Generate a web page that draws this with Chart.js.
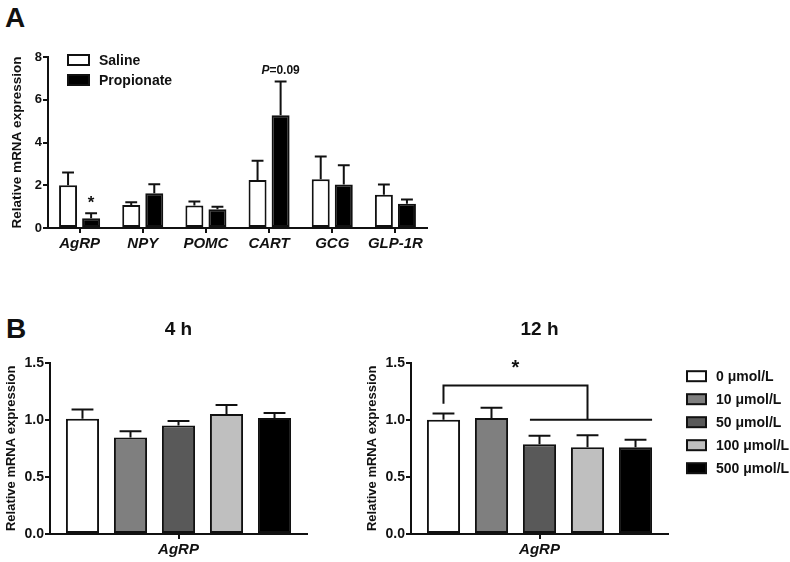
<!DOCTYPE html>
<html>
<head>
<meta charset="utf-8">
<script src="https://cdn.jsdelivr.net/npm/chart.js@4.4.0/dist/chart.umd.min.js"></script>
<style>
  body { margin: 0; background: #fff; width: 790px; height: 562px; position: relative; overflow: hidden; font-family: "Liberation Sans", Arial, sans-serif; }
  .wrap { position: absolute; }
  .panel { position: absolute; font-weight: bold; font-size: 28px; color: #111; line-height: normal; }
</style>
</head>
<body>
<div class="panel" style="left:5px;top:2px">A</div>
<div class="panel" style="left:6px;top:313px">B</div>
<div class="wrap" style="left:0;top:0;width:440px;height:262px"><canvas id="chartA"></canvas></div>
<div class="wrap" style="left:0;top:290px;width:325px;height:272px"><canvas id="chart4h"></canvas></div>
<div class="wrap" style="left:330px;top:290px;width:460px;height:272px"><canvas id="chart12h"></canvas></div>
<script>
// panel A data
const genes = ["AgRP", "NPY", "POMC", "CART", "GCG", "GLP-1R"];
const salineMean = [2.0, 1.08, 1.05, 2.25, 2.28, 1.56];
const salineSem = [0.6, 0.13, 0.19, 0.9, 1.07, 0.47];
const propMean = [0.46, 1.63, 0.88, 5.28, 2.03, 1.13];
const propSem = [0.23, 0.42, 0.12, 1.57, 0.9, 0.2];

// panel B data
const doseLabels = ["0 μmol/L", "10 μmol/L", "50 μmol/L", "100 μmol/L", "500 μmol/L"];
const mean4h = [1.01, 0.845, 0.95, 1.05, 1.015];
const sem4h = [0.08, 0.055, 0.04, 0.08, 0.045];
const mean12h = [1.0, 1.015, 0.785, 0.76, 0.76];
const sem12h = [0.055, 0.09, 0.075, 0.105, 0.065];

const doseColors = ["#ffffff", "#7f7f7f", "#595959", "#bfbfbf", "#000000"];
const ink = "#111";
const FONT = "Liberation Sans";
Chart.defaults.font.family = FONT;
Chart.defaults.color = ink;

// error bars (mean + SEM, upward only)
const errorBars = {
  id: "errorBars",
  afterDatasetsDraw(chart) {
    const ctx = chart.ctx;
    const y = chart.scales.y;
    chart.data.datasets.forEach((ds, i) => {
      const meta = chart.getDatasetMeta(i);
      meta.data.forEach((bar, j) => {
        const top = y.getPixelForValue(ds.data[j] + ds.errors[j]);
        const cap = bar.width * 0.33;
        ctx.save();
        ctx.strokeStyle = ink;
        ctx.lineWidth = 2;
        ctx.beginPath();
        ctx.moveTo(bar.x, bar.y);
        ctx.lineTo(bar.x, top);
        ctx.moveTo(bar.x - cap, top);
        ctx.lineTo(bar.x + cap, top);
        ctx.stroke();
        ctx.restore();
      });
    });
  }
};

// legend drawn as GraphPad-style boxes
function boxLegend(x0, y0, step, bw, bh) {
  return {
    id: "boxLegend",
    afterDraw(chart) {
      const ctx = chart.ctx;
      const a = chart.chartArea;
      chart.data.datasets.forEach((ds, i) => {
        const x = x0(a);
        const yc = y0(a) + i * step;
        ctx.save();
        ctx.fillStyle = ds.backgroundColor;
        ctx.fillRect(x, yc - bh / 2, bw, bh);
        ctx.strokeStyle = ink;
        ctx.lineWidth = 2;
        ctx.strokeRect(x, yc - bh / 2, bw, bh);
        ctx.fillStyle = ink;
        ctx.font = "bold 14px " + FONT;
        ctx.textBaseline = "middle";
        ctx.fillText(ds.label, x + bw + 10, yc + 1);
        ctx.restore();
      });
    }
  };
}

function yAxis(max, step, tickSize, titleSize, width, decimals) {
  return {
    min: 0,
    max: max,
    ticks: {
      stepSize: step,
      padding: 1,
      font: { size: tickSize, weight: "bold" },
      color: ink,
      callback: (v) => v.toFixed(decimals)
    },
    grid: { drawOnChartArea: false, drawTicks: true, tickLength: 5, color: ink, lineWidth: 2 },
    border: { display: true, color: ink, width: 2 },
    title: { display: true, text: "Relative mRNA expression", font: { size: titleSize, weight: "bold" }, padding: 0, color: ink },
    afterFit: (s) => { s.width = width; }
  };
}

function xAxis(labelSize) {
  return {
    grid: { offset: false, drawOnChartArea: false, drawTicks: true, tickLength: 5, color: ink, lineWidth: 2 },
    border: { display: true, color: ink, width: 2 },
    ticks: { padding: 2, font: { size: labelSize, weight: "bold", style: "italic" }, color: ink },
    afterFit: (s) => { s.height = 26; }
  };
}

// Panel A
const notesA = {
  id: "notesA",
  afterDraw(chart) {
    const ctx = chart.ctx;
    const y = chart.scales.y;
    const prop = chart.getDatasetMeta(1).data;
    ctx.save();
    ctx.fillStyle = ink;
    ctx.textAlign = "center";
    ctx.textBaseline = "middle";
    ctx.font = "bold 17px " + FONT;
    ctx.fillText("*", prop[0].x, y.getPixelForValue(1.3) + 3);
    ctx.font = "bold 12px " + FONT;
    const px = prop[3].x;
    const py = y.getPixelForValue(7.35);
    ctx.textAlign = "left";
    const w1 = ctx.measureText("=0.09").width;
    ctx.font = "italic bold 12px " + FONT;
    const w0 = ctx.measureText("P").width;
    const x0 = px - (w0 + w1) / 2;
    ctx.fillText("P", x0, py);
    ctx.font = "bold 12px " + FONT;
    ctx.fillText("=0.09", x0 + w0, py);
    ctx.restore();
  }
};

new Chart(document.getElementById("chartA"), {
  type: "bar",
  data: {
    labels: genes,
    datasets: [
      { label: "Saline", data: salineMean, errors: salineSem, backgroundColor: "#ffffff", borderColor: ink, borderWidth: 2, borderSkipped: false },
      { label: "Propionate", data: propMean, errors: propSem, backgroundColor: "#000000", borderColor: ink, borderWidth: 2, borderSkipped: false }
    ]
  },
  options: {
    responsive: true,
    maintainAspectRatio: false,
    animation: false,
    categoryPercentage: 0.73,
    barPercentage: 0.78,
    layout: { padding: { left: 9, right: 13, top: 57, bottom: 8 } },
    plugins: { legend: { display: false }, tooltip: { enabled: false }, title: { display: false } },
    scales: { x: xAxis(15), y: yAxis(8, 2, 13, 13.5, 39, 0) }
  },
  plugins: [errorBars, notesA, boxLegend((a) => a.left + 20, (a) => a.top + 3, 20, 21, 10)]
});

// Panel B
function doseChart(id, title, means, sems, padLeft, padRight, extra) {
  return new Chart(document.getElementById(id), {
    type: "bar",
    data: {
      labels: ["AgRP"],
      datasets: doseLabels.map((lab, i) => ({
        label: lab,
        data: [means[i]],
        errors: [sems[i]],
        backgroundColor: doseColors[i],
        borderColor: ink,
        borderWidth: 2,
        borderSkipped: false
      }))
    },
    options: {
      responsive: true,
      maintainAspectRatio: false,
      animation: false,
      categoryPercentage: 0.934,
      barPercentage: 0.69,
      layout: { padding: { left: padLeft, right: padRight, top: 0, bottom: 2 } },
      plugins: {
        legend: { display: false },
        tooltip: { enabled: false },
        title: { display: true, text: title, fullSize: false, font: { size: 19, weight: "bold" }, color: ink, padding: { top: 28.6, bottom: 21.3 } }
      },
      scales: { x: xAxis(15), y: yAxis(1.5, 0.5, 14, 13, 46, 1) }
    },
    plugins: [errorBars].concat(extra)
  });
}

// bracket: 0 vs 50-500 μmol/L at 12 h
const sigLevels = { leftFoot: 1.14, top: 1.30, lower: 1.0, star: 1.49 };
const bracket = {
  id: "bracket",
  afterDraw(chart) {
    const ctx = chart.ctx;
    const y = chart.scales.y;
    const b = chart.data.datasets.map((d, i) => chart.getDatasetMeta(i).data[0]);
    const yTop = y.getPixelForValue(sigLevels.top);
    const yLow = y.getPixelForValue(sigLevels.lower);
    ctx.save();
    ctx.strokeStyle = ink;
    ctx.lineWidth = 2;
    ctx.beginPath();
    ctx.moveTo(b[0].x, y.getPixelForValue(sigLevels.leftFoot));
    ctx.lineTo(b[0].x, yTop);
    ctx.lineTo(b[3].x, yTop);
    ctx.lineTo(b[3].x, yLow);
    ctx.moveTo(b[2].x - b[2].width / 2 + 7, yLow);
    ctx.lineTo(b[4].x + b[4].width / 2, yLow);
    ctx.stroke();
    ctx.fillStyle = ink;
    ctx.font = "bold 20px " + FONT;
    ctx.textAlign = "center";
    ctx.textBaseline = "middle";
    ctx.fillText("*", (b[0].x + b[3].x) / 2, y.getPixelForValue(sigLevels.star) + 5);
    ctx.restore();
  }
};

doseChart("chart4h", "4 h", mean4h, sem4h, 4, 18, []);
doseChart("chart12h", "12 h", mean12h, sem12h, 35, 122, [bracket, boxLegend((a) => a.right + 19, (a) => a.top + 13.5, 23, 19, 10)]);
</script>
</body>
</html>
